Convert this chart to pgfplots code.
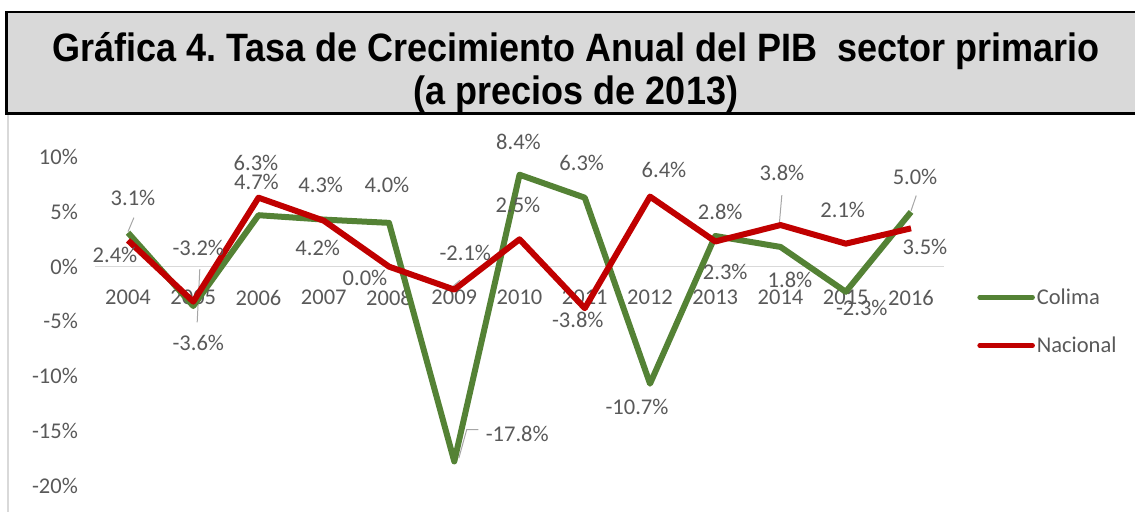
\documentclass[border=0pt]{standalone}
\usepackage{fontspec}
\setmainfont{Carlito}
\newfontfamily\titlefont{Liberation Sans}
\usepackage{pgfplots}
\usepackage{pgfplotstable}
\pgfplotsset{compat=1.18}
\definecolor{colima}{HTML}{548235}
\definecolor{nacional}{HTML}{C00000}
\definecolor{labgray}{HTML}{595959}
\definecolor{linegray}{HTML}{D9D9D9}
\definecolor{leadgray}{HTML}{A6A6A6}
\frenchspacing

% value + label offset (pt) from the point
\pgfplotstableread{
year  v     dx    dy
2004  3.1   5     34.6
2005  -3.6  5     -37
2006  4.7   -2    33
2007  4.3   -3    34.5
2008  4.0   -2    38
2009  -17.8 63    28
2010  8.4   -1    33
2011  6.3   -3    35
2012  -10.7 -13   -23.5
2013  2.8   5     24
2014  1.8   9.5   -33
2015  -2.3  16    -16
2016  5.0   4     35
}\colima

\pgfplotstableread{
year  v     dx    dy
2004  2.4   -13   -15
2005  -3.2  5     53.5
2006  6.3   -2.5  34.6
2007  4.2   -6    -27
2008  0.0   -24   -11.5
2009  -2.1  11    36.5
2010  2.5   -1.5  34
2011  -3.8  -7    -12
2012  6.4   14    26.5
2013  2.3   10    -30.6
2014  3.8   1.5   52
2015  2.1   -3    33.5
2016  3.5   14    -19
}\nacional

\begin{document}
\begin{tikzpicture}
\useasboundingbox (0pt,0pt) rectangle (1135pt,-512pt);
% title box
\fill[linegray] (5pt,-12pt) rectangle (1135pt,-112pt);
\draw[black, line width=1.5pt] (5pt,-12pt) -- (1135pt,-12pt);
\draw[black, line width=3pt] (6pt,-11pt) -- (6pt,-113.5pt) -- (1135pt,-113.5pt);
\node[anchor=base, inner sep=0pt, font=\titlefont\bfseries\fontsize{36}{40}\selectfont] at (576pt,-61pt)
  {\scalebox{1}[1.1]{Gráfica 4. Tasa de Crecimiento Anual del PIB \ sector primario}};
\node[anchor=base, inner sep=0pt, font=\titlefont\bfseries\fontsize{36}{40}\selectfont] at (576pt,-104pt)
  {\scalebox{1}[1.1]{(a precios de 2013)}};
% chart frame
\draw[linegray, line width=1.5pt] (8pt,-115pt) -- (8pt,-512pt);

\begin{axis}[
  at={(95.4pt,-485.5pt)}, anchor=south west,
  scale only axis, width=848.25pt, height=328.3pt,
  xmin=2003.5, xmax=2016.5, ymin=-20, ymax=10,
  axis x line=middle, axis y line=left,
  x axis line style={draw=linegray, line width=1.5pt, -},
  y axis line style={draw=none},
  hide obscured x ticks=false, hide obscured y ticks=false,
  xtick={2004,2005,...,2016},
  ytick={-20,-15,...,10},
  major tick length=0pt,
  /pgf/number format/assume math mode=true,
  /pgf/number format/1000 sep={},
  yticklabel={\pgfmathprintnumber{\tick}\%},
  tick label style={font=\fontsize{22.5}{26}\selectfont, text=labgray},
  x tick label style={yshift=-20pt},
  y tick label style={xshift=-14pt},
  clip=false,
  legend style={at={(1.036,0.5)}, anchor=west, draw=none, fill=none,
    font=\fontsize{22.5}{26}\selectfont, text=labgray, row sep=27pt,
    nodes={inner sep=2pt}},
  legend cell align=left,
  legend image code/.code={\draw[#1, line width=4.5pt, line cap=round] (0pt,0pt) -- (53pt,0pt);},
  nodes near coords={\pgfmathprintnumber[fixed,fixed zerofill,precision=1]{\pgfplotspointmeta}\%},
  point meta=y,
  visualization depends on={\thisrow{dx} \as \dx},
  visualization depends on={\thisrow{dy} \as \dy},
  every node near coord/.style={anchor=center, inner sep=0pt,
    font=\fontsize{22.5}{26}\selectfont, text=labgray,
    xshift=\dx pt, yshift=\dy pt},
]
% leader lines
\draw[leadgray, line width=1pt] (axis cs:2004.09,4.48) -- (axis cs:2004,3.2);
\draw[leadgray, line width=1pt] (axis cs:2005.10,-0.23) -- (axis cs:2005.06,-5.09);
\draw[leadgray, line width=1pt] (axis cs:2009.09,-1.23) -- (axis cs:2008.91,-2.15);
\draw[leadgray, line width=1pt] (axis cs:2009.37,-14.9) -- (axis cs:2009.19,-14.9) -- (axis cs:2009.07,-17.5);
\draw[leadgray, line width=1pt] (axis cs:2014.02,6.54) -- (axis cs:2013.98,3.8);
\draw[leadgray, line width=1pt] (axis cs:2016.08,6.5) -- (axis cs:2016.0,5.1);

\addplot[colima, line width=6pt, line join=round, mark=none] table[x=year, y=v] {\colima};
\addlegendentry{Colima}
\addplot[nacional, line width=6pt, line join=round, mark=none] table[x=year, y=v] {\nacional};
\addlegendentry{Nacional}
\end{axis}
\end{tikzpicture}
\end{document}
